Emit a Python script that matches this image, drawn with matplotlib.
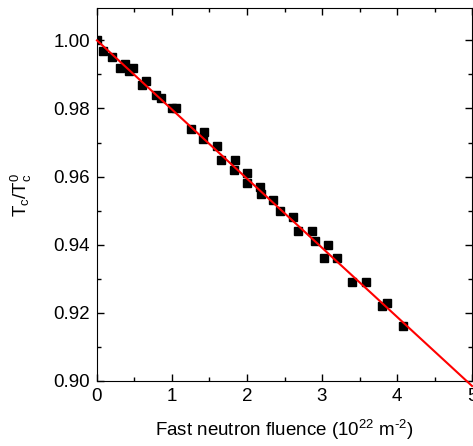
import numpy as np
import matplotlib
matplotlib.use('Agg')
import matplotlib.pyplot as plt
from matplotlib.ticker import MultipleLocator

# fluence (10^22 m^-2) and normalised Tc
fluence = [0.0, 0.08, 0.2, 0.31, 0.38, 0.43, 0.48, 0.6, 0.66, 0.79, 0.85,
           1.0, 1.05, 1.26, 1.43, 1.42, 1.6, 1.65, 1.84, 1.83, 2.0, 2.0,
           2.17, 2.18, 2.35, 2.44, 2.61, 2.68, 2.86, 2.91, 3.08, 3.02, 3.2,
           3.4, 3.59, 3.8, 3.87, 4.08]
tc_ratio = [1.000, 0.997, 0.995, 0.992, 0.993, 0.991, 0.992, 0.987, 0.988,
            0.984, 0.983, 0.980, 0.980, 0.974, 0.973, 0.971, 0.969, 0.965,
            0.965, 0.962, 0.961, 0.958, 0.957, 0.955, 0.953, 0.950, 0.948,
            0.944, 0.944, 0.941, 0.940, 0.936, 0.936, 0.929, 0.929, 0.922,
            0.923, 0.916]

# linear fit line
fit_x = [0.0, 5.0]
fit_y = [1.000, 0.8985]

plt.rcParams['font.family'] = ['Liberation Sans', 'DejaVu Sans']
plt.rcParams['mathtext.fontset'] = 'custom'
plt.rcParams['mathtext.rm'] = 'Liberation Sans'

fig = plt.figure(figsize=(4.73, 4.46), dpi=100)
ax = fig.add_axes([0.205, 0.146, 0.793, 0.836])

ax.plot(fit_x, fit_y, color='red', lw=1.5, zorder=3, clip_on=False)
ax.plot(fluence, tc_ratio, 's', color='black', ms=6, zorder=2)

ax.set_xlim(0, 5)
ax.set_ylim(0.90, 1.0095)
ax.xaxis.set_major_locator(MultipleLocator(1))
ax.xaxis.set_minor_locator(MultipleLocator(0.5))
ax.yaxis.set_major_locator(MultipleLocator(0.02))
ax.yaxis.set_minor_locator(MultipleLocator(0.01))
ax.yaxis.set_major_formatter(matplotlib.ticker.FormatStrFormatter('%.2f'))

ax.tick_params(which='both', direction='in', top=True, right=True,
               labelsize=13.5, width=1)
ax.tick_params(which='major', length=5, pad=5)
ax.tick_params(which='minor', length=3)

ax.set_xlabel(r'Fast neutron fluence (10$^{22}$ m$^{\text{-2}}$)', fontsize=13.5,
              labelpad=9)
ax.set_ylabel(r'$\mathregular{T_c/T_c^0}$', fontsize=13.5, labelpad=14)

fig.savefig('out.png', dpi=100)
